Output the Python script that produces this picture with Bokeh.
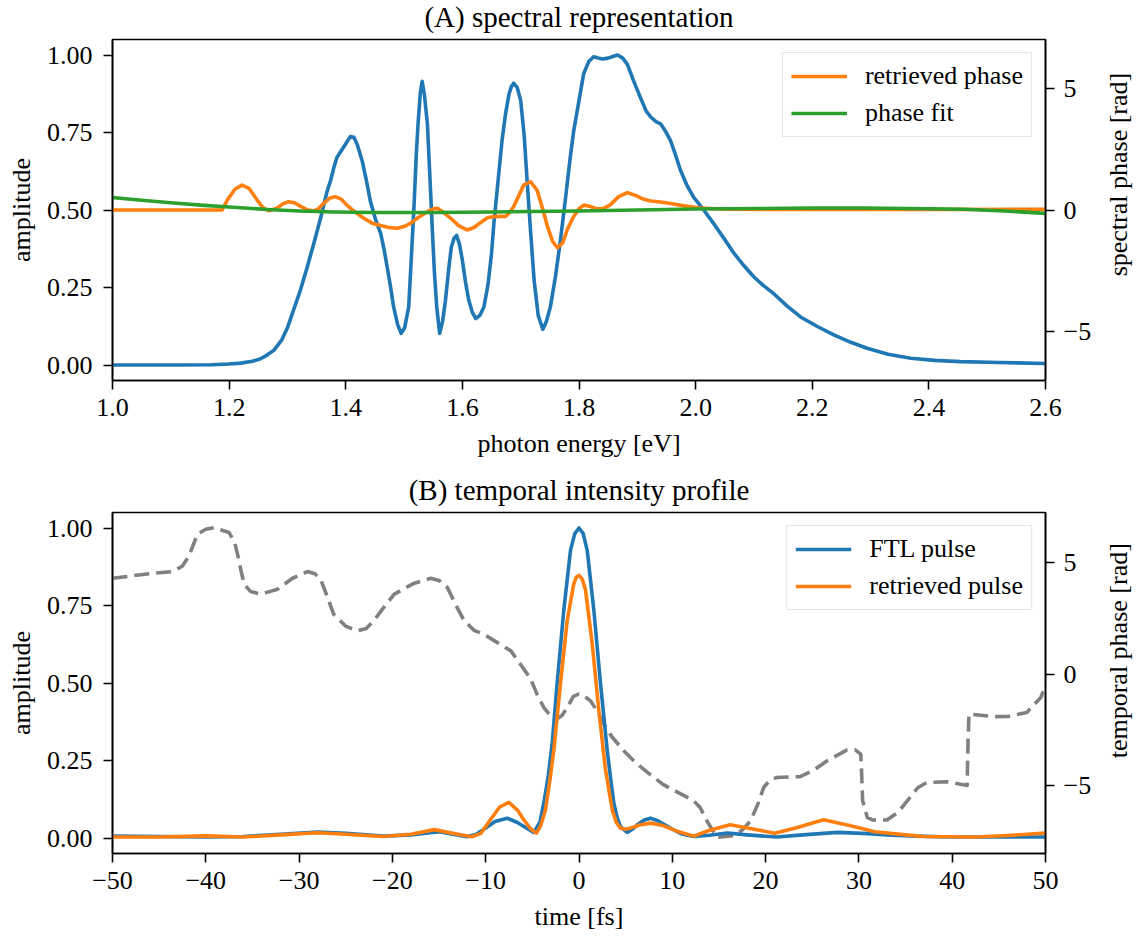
import math
from bokeh.plotting import figure
from bokeh.models import (Range1d, LinearAxis, FixedTicker, CustomJSTickFormatter,
                          Legend, LegendItem, Label)
from bokeh.layouts import column, row
from bokeh.embed import file_html
from bokeh.resources import INLINE

FONT = "Liberation Serif"
BLUE = "#1f77b4"
ORANGE = "#ff7f0e"
GREEN = "#2ca02c"
GRAY = "#808080"

# ---------------- (A) spectral data ----------------
energy_amp = [1.00, 1.10, 1.17, 1.20, 1.22, 1.24, 1.254, 1.265, 1.277, 1.29, 1.30, 1.311, 1.322, 1.333,
              1.345, 1.357, 1.368, 1.374, 1.38, 1.385, 1.397, 1.408, 1.414, 1.42, 1.428, 1.436, 1.442,
              1.451, 1.46, 1.466, 1.471, 1.477, 1.482, 1.489, 1.495, 1.501, 1.508, 1.512, 1.517, 1.521,
              1.524, 1.528, 1.531, 1.535, 1.54, 1.544, 1.548, 1.552, 1.556, 1.561, 1.566, 1.571, 1.576,
              1.581, 1.586, 1.59, 1.595, 1.60, 1.606, 1.611, 1.617, 1.623, 1.63, 1.637, 1.644, 1.65,
              1.654, 1.661, 1.668, 1.674, 1.68, 1.684, 1.688, 1.694, 1.70, 1.706, 1.711, 1.717, 1.723,
              1.73, 1.738, 1.744, 1.751, 1.76, 1.768, 1.777, 1.785, 1.791, 1.80, 1.808, 1.817, 1.825,
              1.833, 1.84, 1.85, 1.858, 1.866, 1.875, 1.883, 1.893, 1.905, 1.915, 1.923, 1.932, 1.94,
              1.948, 1.957, 1.966, 1.974, 1.985, 1.997, 2.014, 2.031, 2.048, 2.066, 2.083, 2.10, 2.117,
              2.134, 2.157, 2.18, 2.208, 2.237, 2.265, 2.294, 2.33, 2.369, 2.41, 2.454, 2.52, 2.60]
spectral_amplitude = [0.000, 0.000, 0.001, 0.003, 0.006, 0.012, 0.02, 0.032, 0.048, 0.08, 0.12, 0.18, 0.24,
                      0.31, 0.39, 0.475, 0.56, 0.595, 0.64, 0.67, 0.705, 0.737, 0.735, 0.71, 0.66, 0.59,
                      0.53, 0.47, 0.424, 0.37, 0.316, 0.25, 0.188, 0.13, 0.102, 0.12, 0.188, 0.33, 0.51,
                      0.68, 0.778, 0.88, 0.915, 0.87, 0.778, 0.62, 0.456, 0.3, 0.188, 0.102, 0.14, 0.209,
                      0.30, 0.38, 0.41, 0.418, 0.39, 0.338, 0.26, 0.209, 0.17, 0.15, 0.16, 0.188, 0.26,
                      0.36, 0.456, 0.59, 0.724, 0.81, 0.874, 0.898, 0.909, 0.895, 0.853, 0.74, 0.595, 0.43,
                      0.274, 0.16, 0.115, 0.14, 0.188, 0.29, 0.40, 0.54, 0.67, 0.756, 0.853, 0.94, 0.98,
                      0.994, 0.99, 0.987, 0.99, 0.995, 1.0, 0.99, 0.97, 0.92, 0.864, 0.82, 0.80, 0.785,
                      0.778, 0.755, 0.724, 0.675, 0.628, 0.58, 0.54, 0.50, 0.456, 0.41, 0.36, 0.32, 0.284,
                      0.255, 0.23, 0.19, 0.155, 0.125, 0.097, 0.074, 0.054, 0.035, 0.022, 0.015, 0.011,
                      0.008, 0.005]

energy_phase = [1.00, 1.188, 1.197, 1.21, 1.222, 1.234, 1.248, 1.258, 1.268, 1.282, 1.292, 1.302, 1.312,
                1.322, 1.335, 1.345, 1.353, 1.362, 1.372, 1.382, 1.392, 1.402, 1.414, 1.431, 1.446, 1.46,
                1.474, 1.488, 1.50, 1.511, 1.525, 1.54, 1.55, 1.557, 1.565, 1.58, 1.594, 1.608, 1.62,
                1.631, 1.643, 1.654, 1.665, 1.674, 1.681, 1.688, 1.697, 1.705, 1.717, 1.728, 1.737,
                1.746, 1.755, 1.763, 1.772, 1.78, 1.79, 1.80, 1.808, 1.82, 1.83, 1.84, 1.853, 1.868,
                1.883, 1.897, 1.91, 1.923, 1.94, 1.957, 1.98, 2.008, 2.05, 2.2, 2.4, 2.6]
retrieved_phase = [0.0, 0.0, 0.41, 0.85, 1.02, 0.89, 0.41, 0.1, -0.03, 0.07, 0.25, 0.34, 0.3, 0.16, 0.0,
                   -0.04, 0.05, 0.27, 0.48, 0.55, 0.45, 0.2, -0.05, -0.34, -0.55, -0.64, -0.72, -0.75,
                   -0.68, -0.55, -0.3, -0.07, 0.05, 0.07, -0.05, -0.34, -0.65, -0.82, -0.72, -0.52,
                   -0.32, -0.27, -0.26, -0.27, -0.1, 0.14, 0.6, 1.02, 1.16, 0.82, 0.1, -0.68, -1.3,
                   -1.55, -1.35, -0.8, -0.3, 0.05, 0.2, 0.14, 0.05, 0.05, 0.2, 0.55, 0.71, 0.6, 0.45,
                   0.37, 0.33, 0.27, 0.17, 0.08, 0.03, 0.02, 0.02, 0.03]

energy_fit = [1.0, 1.05, 1.10, 1.151, 1.2, 1.265, 1.32, 1.38, 1.45, 1.55, 1.65, 1.8, 1.9, 2.0, 2.1,
              2.2, 2.29, 2.4, 2.46, 2.53, 2.6]
phase_fit = [0.51, 0.40, 0.30, 0.2, 0.12, 0.02, -0.04, -0.08, -0.1, -0.1, -0.08, -0.04, 0.0, 0.04,
             0.06, 0.08, 0.08, 0.05, 0.03, -0.04, -0.14]

# ---------------- (B) temporal data ----------------
time_ftl = [-50, -45, -40, -36, -32, -28, -25, -21, -18, -15, -12, -11, -10, -9, -7.7, -6.6, -5.9, -4.85,
            -4.2, -3.77, -3.3, -2.87, -2.34, -1.63, -0.91, -0.45, 0, 0.45, 0.88, 1.59, 2.3, 3.02, 3.4,
            3.73, 4.1, 4.45, 5.17, 5.8, 6.24, 7.0, 7.66, 8.5, 9.8, 11, 12.3, 14, 15.9, 18, 21.2, 24,
            27.7, 31, 33, 36, 40, 45, 50]
ftl_pulse = [0.006, 0.005, 0.003, 0.005, 0.012, 0.019, 0.015, 0.006, 0.01, 0.02, 0.004, 0.012, 0.032,
             0.053, 0.064, 0.05, 0.037, 0.018, 0.05, 0.113, 0.2, 0.306, 0.50, 0.735, 0.928, 0.982, 1.0,
             0.982, 0.928, 0.735, 0.50, 0.284, 0.19, 0.113, 0.065, 0.037, 0.018, 0.03, 0.043, 0.058,
             0.064, 0.055, 0.032, 0.013, 0.005, 0.009, 0.016, 0.01, 0.003, 0.01, 0.018, 0.014, 0.01,
             0.006, 0.003, 0.003, 0.003]

time_ret = [-50, -45, -40, -36, -32, -28, -25, -21, -18, -15.5, -13, -11.5, -10.5, -9.5, -8.5, -7.52,
            -6.6, -5.92, -5.2, -4.56, -4.1, -3.59, -3.1, -2.70, -1.98, -1.27, -0.56, -0.28, 0, 0.35,
            0.70, 1.41, 2.12, 2.84, 3.56, 4.0, 4.45, 5.0, 5.52, 6.5, 7.66, 9, 10.5, 12.3, 14, 16.2,
            18.5, 21, 23.5, 26.2, 29, 31.7, 35, 37, 42.5, 46, 50]
retrieved_pulse = [0.003, 0.003, 0.007, 0.003, 0.01, 0.017, 0.012, 0.005, 0.012, 0.027, 0.012, 0.004,
                   0.015, 0.059, 0.1, 0.115, 0.09, 0.059, 0.03, 0.016, 0.04, 0.091, 0.19, 0.284, 0.50,
                   0.70, 0.82, 0.842, 0.847, 0.835, 0.80, 0.628, 0.413, 0.22, 0.091, 0.05, 0.032, 0.028,
                   0.032, 0.042, 0.048, 0.04, 0.022, 0.006, 0.025, 0.043, 0.03, 0.015, 0.035, 0.059,
                   0.04, 0.02, 0.01, 0.005, 0.003, 0.008, 0.016]

time_phase = [-50, -45.9, -43.5, -42.5, -41.8, -40.9, -40, -39.1, -37.5, -36.9, -36.6, -36.2, -35.9,
              -35.2, -34.1, -32.3, -30.7, -29.1, -28.3, -27.7, -27, -26.3, -25, -23.8, -22.8, -22,
              -21, -19.8, -17.8, -15.9, -15, -14.1, -13.2, -12.3, -11.2, -10.2, -8.7, -7.3, -6.3,
              -5.2, -4.5, -3.77, -3.0, -2.34, -1.8, -1.27, -0.6, -0.02, 0.6, 1.23, 2.0, 2.66, 3.5,
              4.8, 6.0, 7.31, 9, 11, 12.3, 13.0, 13.7, 14.3, 14.8, 16.6, 17.5, 18.4, 19.2, 19.8,
              20.5, 21.2, 23.7, 25.2, 26.6, 28.7, 29.6, 30.2, 30.3, 30.4, 30.9, 31.5, 33.0, 34.2,
              35.2, 36.3, 37.3, 39.5, 41.6, 41.7, 41.8, 44.5, 46, 48.0, 49.5, 50]
temporal_phase = [4.3, 4.51, 4.6, 4.85, 5.3, 6.28, 6.5, 6.57, 6.35, 5.9, 5.38, 4.6, 4.04, 3.7, 3.59,
                  3.81, 4.3, 4.6, 4.5, 4.26, 3.5, 2.69, 2.15, 1.94, 2.05, 2.39, 2.95, 3.59, 4.05, 4.3,
                  4.2, 3.88, 3.1, 2.39, 1.95, 1.79, 1.4, 1.04, 0.45, -0.2, -0.9, -1.5, -1.9, -2.0,
                  -1.85, -1.5, -1.0, -0.9, -1.0, -1.2, -1.7, -2.24, -2.8, -3.44, -3.95, -4.4, -4.95,
                  -5.4, -5.68, -6.0, -6.58, -7.0, -7.33, -7.25, -7.0, -6.58, -5.8, -5.08, -4.75, -4.64,
                  -4.6, -4.3, -3.89, -3.41, -3.4, -3.59, -4.5, -5.68, -6.43, -6.55, -6.55, -6.2, -5.68,
                  -5.1, -4.86, -4.83, -5.0, -3.0, -1.79, -1.91, -1.9, -1.72, -1.05, -0.5]

amp_ticks = [0.0, 0.25, 0.5, 0.75, 1.0]
energy_ticks = [1.0, 1.2, 1.4, 1.6, 1.8, 2.0, 2.2, 2.4, 2.6]
time_ticks = [-50, -40, -30, -20, -10, 0, 10, 20, 30, 40, 50]
phase_ticks = [-5, 0, 5]

FMT_INT = 'return tick < 0 ? "\\u2212" + Math.abs(tick).toString() : tick.toString();'
LW = 3.6
TOTAL_W = 1141
STRIP_W = 40          # narrow strip to the right that carries the rotated right-axis label
MAIN_W = TOTAL_W - STRIP_W


def style_axis(ax, ticks, code, label, label_standoff=9, title_standoff=10):
    ax.ticker = FixedTicker(ticks=ticks)
    ax.formatter = CustomJSTickFormatter(code=code)
    ax.axis_label = label
    ax.axis_label_text_font = FONT
    ax.axis_label_text_font_size = "26px"
    ax.axis_label_text_font_style = "normal"
    ax.axis_label_text_color = "black"
    ax.major_label_text_font = FONT
    ax.major_label_text_font_size = "26px"
    ax.major_label_text_color = "black"
    ax.major_tick_out = 9
    ax.major_tick_in = 0
    ax.minor_tick_out = 0
    ax.minor_tick_in = 0
    ax.axis_line_width = 1.6
    ax.axis_line_color = "black"
    ax.major_tick_line_width = 1.6
    ax.major_tick_line_color = "black"
    ax.major_label_standoff = label_standoff
    ax.axis_label_standoff = title_standoff


def make_fig(height, bottom, xr, phase_range):
    p = figure(width=MAIN_W, height=height, x_range=xr, y_range=Range1d(-0.05, 1.05),
               output_backend="svg", toolbar_location=None, title=None,
               min_border_left=112, min_border_right=MAIN_W - 1045, min_border_top=2,
               min_border_bottom=bottom)
    p.xgrid.visible = False
    p.ygrid.visible = False
    p.outline_line_color = "black"
    p.outline_line_width = 1.6
    p.outline_line_alpha = 1.0
    p.background_fill_color = "white"
    p.border_fill_color = "white"
    p.extra_y_ranges = {"phase": phase_range}
    return p


def text_fig(width, height, label):
    """A bare figure (no axes, no title) whose frame is the whole canvas, in pixel coordinates."""
    f = figure(width=width, height=height, x_range=Range1d(0, width), y_range=Range1d(0, height),
               x_axis_type=None, y_axis_type=None, output_backend="svg", toolbar_location=None,
               title=None, min_border=0, min_border_left=0, min_border_right=0, min_border_top=0,
               min_border_bottom=0)
    f.outline_line_color = None
    f.background_fill_color = "white"
    f.border_fill_color = "white"
    f.add_layout(label)
    return f


def title_fig(height, text, middle_from_top):
    return text_fig(TOTAL_W, height,
                    Label(x=(112 + 1045) / 2, y=height - middle_from_top, text=text,
                          text_font=FONT, text_font_size="29px", text_color="black",
                          text_align="center", text_baseline="middle"))


def side_fig(height, text, center_from_top, center_x):
    return text_fig(STRIP_W, height,
                    Label(x=center_x - MAIN_W, y=height - center_from_top, text=text,
                          angle=math.pi / 2, text_font=FONT, text_font_size="26px",
                          text_color="black", text_align="center", text_baseline="middle"))


def make_legend(items):
    lg = Legend(items=items, location="top_right", margin=13, padding=8, spacing=7,
                glyph_width=56, glyph_height=30, label_height=30, label_standoff=18,
                label_text_font=FONT, label_text_font_size="26px", label_text_color="black",
                border_line_color="#cccccc", border_line_width=1.5,
                background_fill_color="white", background_fill_alpha=0.8)
    return lg


# ---------- top panel: page y 0..475 ----------
T1_H = 37
P1_H = 438
t1 = title_fig(T1_H, "(A) spectral representation", 16.0)
p1 = make_fig(P1_H, P1_H - 2 - 341, Range1d(1.0, 2.6), Range1d(-7.0, 7.0))
style_axis(p1.xaxis[0], energy_ticks, "return tick.toFixed(1);", "photon energy [eV]")
style_axis(p1.yaxis[0], amp_ticks, "return tick.toFixed(2);", "amplitude", 11, 8)
ax_r1 = LinearAxis(y_range_name="phase")
style_axis(ax_r1, phase_ticks, FMT_INT, None)
p1.add_layout(ax_r1, "right")

p1.line(energy_amp, spectral_amplitude, line_color=BLUE, line_width=LW, line_join="round")
r_ret = p1.line(energy_phase, retrieved_phase, y_range_name="phase", line_color=ORANGE,
                line_width=LW, line_join="round")
r_fit = p1.line(energy_fit, phase_fit, y_range_name="phase", line_color=GREEN,
                line_width=LW, line_join="round")
p1.add_layout(make_legend([LegendItem(label="retrieved phase", renderers=[r_ret]),
                           LegendItem(label="phase fit", renderers=[r_fit])]))
s1 = side_fig(P1_H, "spectral phase [rad]", 210.5 - T1_H, 1118)

# ---------- bottom panel: page y 475..938 ----------
T2_H = 35
P2_H = 938 - 475 - T2_H
t2 = title_fig(T2_H, "(B) temporal intensity profile", 489.5 - 475)
p2 = make_fig(P2_H, P2_H - 2 - 341, Range1d(-50, 50), Range1d(-8.05, 7.25))
style_axis(p2.xaxis[0], time_ticks, FMT_INT, "time [fs]")
style_axis(p2.yaxis[0], amp_ticks, "return tick.toFixed(2);", "amplitude", 11, 8)
ax_r2 = LinearAxis(y_range_name="phase")
style_axis(ax_r2, phase_ticks, FMT_INT, None)
p2.add_layout(ax_r2, "right")

p2.line(time_phase, temporal_phase, y_range_name="phase", line_color=GRAY, line_width=LW,
        line_dash="15 7", line_join="round")
r_ftl = p2.line(time_ftl, ftl_pulse, line_color=BLUE, line_width=LW, line_join="round")
r_rp = p2.line(time_ret, retrieved_pulse, line_color=ORANGE, line_width=LW, line_join="round")
p2.add_layout(make_legend([LegendItem(label="FTL pulse", renderers=[r_ftl]),
                           LegendItem(label="retrieved pulse", renderers=[r_rp])]))
s2 = side_fig(P2_H, "temporal phase [rad]", 683.5 - 475 - T2_H, 1118)

layout = column(t1, row(p1, s1, spacing=0), t2, row(p2, s2, spacing=0), spacing=0)
open("out.html", "w").write(file_html(layout, INLINE))
